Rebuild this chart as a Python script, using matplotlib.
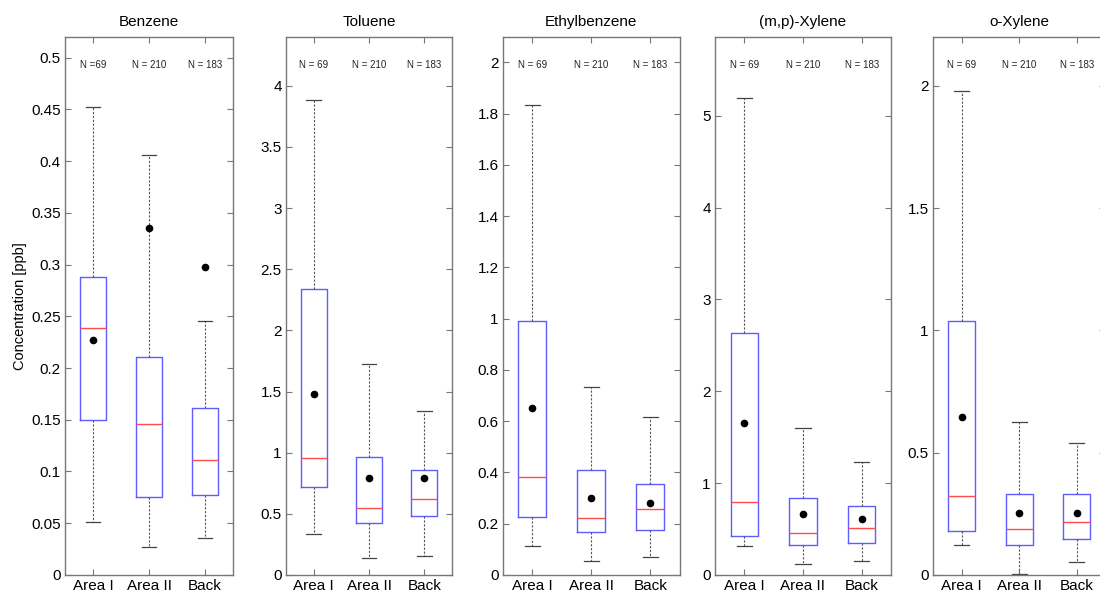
import numpy as np
import matplotlib
matplotlib.use('Agg')
import matplotlib.pyplot as plt
from matplotlib.ticker import FuncFormatter

plt.rcParams['font.family'] = ['Liberation Sans', 'DejaVu Sans']

groups = ['Area I', 'Area II', 'Back']
compounds = ['Benzene', 'Toluene', 'Ethylbenzene', '(m,p)-Xylene', 'o-Xylene']
n_labels = [['N =69', 'N = 210', 'N = 183']] + [['N = 69', 'N = 210', 'N = 183']] * 4

# whisker low, Q1, median, Q3, whisker high, mean  (per group)
benzene_low = [0.051, 0.027, 0.036]
benzene_q1 = [0.150, 0.075, 0.077]
benzene_med = [0.239, 0.146, 0.111]
benzene_q3 = [0.288, 0.211, 0.161]
benzene_high = [0.452, 0.406, 0.245]
benzene_mean = [0.227, 0.335, 0.298]

toluene_low = [0.334, 0.139, 0.158]
toluene_q1 = [0.723, 0.424, 0.481]
toluene_med = [0.959, 0.546, 0.625]
toluene_q3 = [2.34, 0.965, 0.859]
toluene_high = [3.885, 1.723, 1.337]
toluene_mean = [1.478, 0.791, 0.791]

ethyl_low = [0.113, 0.055, 0.071]
ethyl_q1 = [0.225, 0.168, 0.175]
ethyl_med = [0.384, 0.221, 0.257]
ethyl_q3 = [0.992, 0.408, 0.355]
ethyl_high = [1.835, 0.732, 0.616]
ethyl_mean = [0.653, 0.299, 0.279]

mpx_low = [0.315, 0.12, 0.149]
mpx_q1 = [0.42, 0.326, 0.348]
mpx_med = [0.80, 0.457, 0.507]
mpx_q3 = [2.63, 0.84, 0.746]
mpx_high = [5.196, 1.60, 1.23]
mpx_mean = [1.66, 0.66, 0.61]

ox_low = [0.121, 0.005, 0.053]
ox_q1 = [0.181, 0.121, 0.148]
ox_med = [0.323, 0.186, 0.217]
ox_q3 = [1.038, 0.332, 0.330]
ox_high = [1.98, 0.625, 0.541]
ox_mean = [0.647, 0.253, 0.253]

all_stats = [
    (benzene_low, benzene_q1, benzene_med, benzene_q3, benzene_high, benzene_mean),
    (toluene_low, toluene_q1, toluene_med, toluene_q3, toluene_high, toluene_mean),
    (ethyl_low, ethyl_q1, ethyl_med, ethyl_q3, ethyl_high, ethyl_mean),
    (mpx_low, mpx_q1, mpx_med, mpx_q3, mpx_high, mpx_mean),
    (ox_low, ox_q1, ox_med, ox_q3, ox_high, ox_mean),
]

ylims = [0.52, 4.4, 2.1, 5.86, 2.2]
yticks = [np.arange(0, 0.51, 0.05), np.arange(0, 4.1, 0.5), np.arange(0, 2.01, 0.2),
          np.arange(0, 5.1, 1), np.arange(0, 2.01, 0.5)]

# axes placement [left, bottom, width, height] in figure fraction
axes_pos = [[0.059, 0.032, 0.153, 0.906],
            [0.260, 0.032, 0.151, 0.906],
            [0.457, 0.032, 0.161, 0.906],
            [0.650, 0.032, 0.160, 0.906],
            [0.848, 0.032, 0.157, 0.906]]

fig = plt.figure(figsize=(11, 5.94), dpi=100)
fmt = FuncFormatter(lambda v, p: '%g' % round(v, 4))

for k, name in enumerate(compounds):
    ax = fig.add_axes(axes_pos[k])
    lo, q1, med, q3, hi, mn = all_stats[k]
    stats = []
    for i in range(3):
        stats.append(dict(whislo=lo[i], q1=q1[i], med=med[i], q3=q3[i], whishi=hi[i], fliers=[]))
    ax.bxp(stats, positions=[1, 2, 3], widths=0.47, capwidths=0.26, showfliers=False,
           boxprops=dict(color='#5c5cff', linewidth=1.0),
           medianprops=dict(color='#ff4d4d', linewidth=1.0),
           whiskerprops=dict(color='#555555', linewidth=0.8, linestyle=(0, (2, 1.5))),
           capprops=dict(color='#444444', linewidth=0.9))
    ax.plot([1, 2, 3], mn, 'o', color='black', markersize=4.5, zorder=5)
    for i in range(3):
        ax.text(i + 1, 0.948, n_labels[k][i], transform=ax.get_xaxis_transform(),
                ha='center', va='center', fontsize=7, color='#222222')
    ax.set_xlim(0.5, 3.5)
    ax.set_ylim(0, ylims[k])
    ax.set_yticks(yticks[k])
    ax.yaxis.set_major_formatter(fmt)
    ax.set_xticks([1, 2, 3])
    ax.set_xticklabels(groups)
    ax.tick_params(direction='in', top=True, right=True, length=4, width=0.8,
                   color='#777777', labelsize=11, pad=3)
    for s in ax.spines.values():
        s.set_color('#777777')
        s.set_linewidth(1.0)
    ax.set_title(name, fontsize=11, pad=8)
    if k == 0:
        ax.set_ylabel('Concentration [ppb]', fontsize=10.5, labelpad=3)

fig.savefig('out.png', dpi=100)
